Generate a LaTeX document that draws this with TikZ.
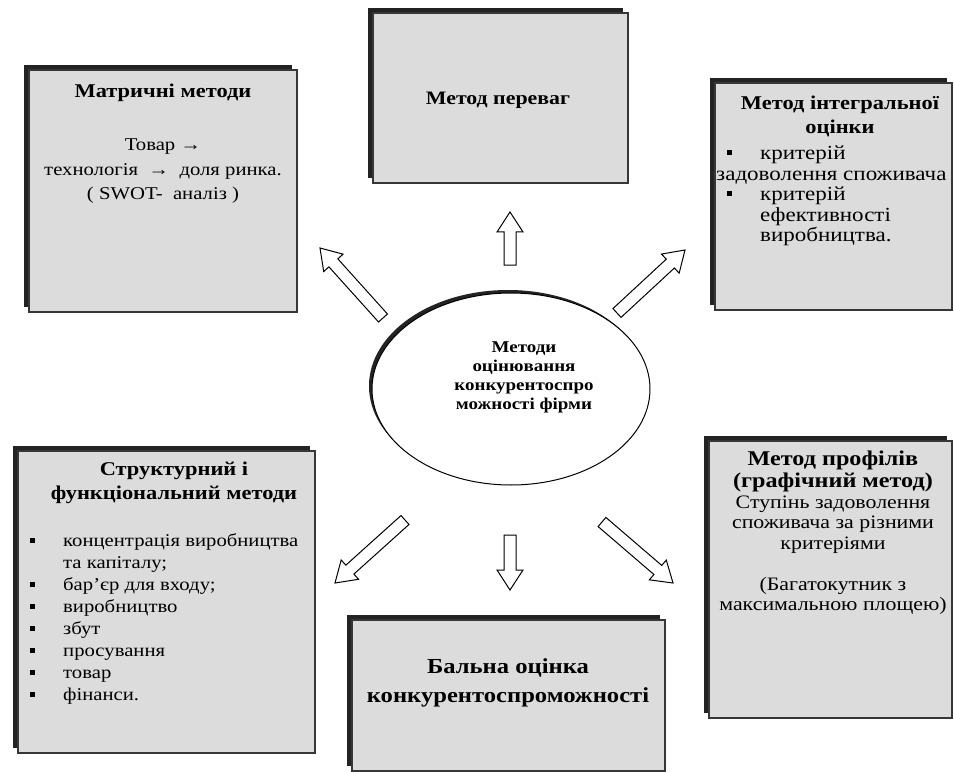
\documentclass[tikz,border=0pt]{standalone}
\usepackage{fontspec}
\setmainfont[FakeStretch=1.15]{Liberation Serif}
\usetikzlibrary{calc,shapes.geometric,shadows}
\definecolor{boxgray}{RGB}{220,220,220}
\definecolor{shadowcol}{RGB}{35,35,35}
\definecolor{linecol}{RGB}{55,55,55}
\newcommand{\bul}{\rule[0.22em]{5pt}{5pt}}
\newcommand{\blockarr}[2]{%
  \coordinate (#1h) at ($(#2)!20pt!(#1)$);
  \draw[fatarrow] ($(#1)!6pt!90:(#2)$) -- ($(#1h)!6pt!-90:(#1)$) -- ($(#1h)!13pt!-90:(#1)$) -- (#2) -- ($(#1h)!13pt!90:(#1)$) -- ($(#1h)!6pt!90:(#1)$) -- ($(#1)!6pt!-90:(#2)$) -- cycle;}
\begin{document}
\begin{tikzpicture}[x=1pt,y=-1pt,
  box/.style={rectangle, fill=boxgray, draw=linecol, line width=1.3pt, inner sep=0pt,
    drop shadow={shadow xshift=-5pt, shadow yshift=5pt, fill=shadowcol, opacity=1}},
  oval/.style={ellipse, fill=white, draw=black, line width=1pt, inner sep=0pt,
    drop shadow={shadow xshift=-3pt, shadow yshift=3pt, fill=shadowcol, opacity=1}},
  fatarrow/.style={draw=black, fill=white, line width=1pt, line join=miter},
  titletxt/.style={inner sep=0pt, align=center, font=\fontsize{19.5}{24}\selectfont\bfseries},
  bodytxt/.style={inner sep=0pt, align=center, font=\fontsize{18}{24.5}\selectfont},
  listtxt/.style={inner sep=0pt, align=left},
]
\useasboundingbox (0,0) rectangle (954,773);
\fill[white] (0,0) rectangle (954,773);

% boxes
\node[box, minimum width=268pt, minimum height=242pt] (tl) at (163,191) {};
\node[box, minimum width=255pt, minimum height=170pt] (tc) at (500.5,98) {};
\node[box, minimum width=237pt, minimum height=227pt] (tr) at (833.5,196.5) {};
\node[box, minimum width=297pt, minimum height=302pt] (bl) at (166.5,602) {};
\node[box, minimum width=313pt, minimum height=151pt] (bc) at (508.5,695.5) {};
\node[box, minimum width=243pt, minimum height=277pt] (br) at (830.5,579.5) {};

% centre
\node[oval, minimum width=278pt, minimum height=192pt] (c) at (511,389) {};
\node[inner sep=0pt, align=center, anchor=north, font=\fontsize{16.5}{19}\selectfont\bfseries] (ct) at (524,341)
  {Методи\\оцінювання\\конкурентоспро\\можності фірми};

% texts
\node[titletxt] (tlt) at (163,93) {Матричні методи};
\node[bodytxt, anchor=north] (tlb) at (163,139) {Товар →\\технологія \ → \ доля ринка.\\( SWOT- \ аналіз )};

\node[titletxt, font=\fontsize{19}{23}\selectfont\bfseries] (tct) at (498,100) {Метод переваг};

\node[titletxt, anchor=north] (trt) at (840,96) {Метод інтегральної\\оцінки};
\node[listtxt, anchor=north west] (trl) at (716,145) {\fontsize{20}{20.5}\selectfont
  \begin{tabular}{@{}p{44pt}@{}l@{}}
  \hspace*{11pt}\bul & критерій\\
  \multicolumn{2}{@{}l@{}}{задоволення споживача}\\
  \hspace*{11pt}\bul & критерій\\
   & ефективності\\
   & виробництва.
  \end{tabular}};

\node[titletxt, anchor=north] (blt) at (174,462) {Структурний і\\функціональний методи};
\node[listtxt, anchor=north west] (bll) at (30,531) {\fontsize{18}{22}\selectfont
  \begin{tabular}{@{}p{33pt}@{}l@{}}
  \bul & концентрація виробництва\\
   & та капіталу;\\
  \bul & бар’єр для входу;\\
  \bul & виробництво\\
  \bul & збут\\
  \bul & просування\\
  \bul & товар\\
  \bul & фінанси.
  \end{tabular}};

\node[inner sep=0pt, align=center, anchor=north, font=\fontsize{21.4}{29}\selectfont\bfseries] (bct) at (508,658)
  {Бальна оцінка\\конкурентоспроможності};

\node[inner sep=0pt, align=center, anchor=north, font=\fontsize{19}{20.5}\selectfont] (brt) at (833,451)
  {{\fontsize{21}{22}\selectfont\bfseries Метод профілів}\\[1.5pt]{\fontsize{21}{22}\selectfont\bfseries (графічний метод)}\\Ступінь задоволення\\споживача за різними\\критеріями\\[20.5pt](Багатокутник з\\максимальною площею)};

% arrows
\coordinate (a1s) at (510,265); \coordinate (a1e) at (510,212);
\coordinate (a2s) at (383,318); \coordinate (a2e) at (320,248);
\coordinate (a3s) at (617,313); \coordinate (a3e) at (685,250);
\coordinate (a4s) at (405,520); \coordinate (a4e) at (335,583);
\coordinate (a5s) at (510,535); \coordinate (a5e) at (510,590);
\coordinate (a6s) at (602,522); \coordinate (a6e) at (673,583);
\blockarr{a1s}{a1e}
\blockarr{a2s}{a2e}
\blockarr{a3s}{a3e}
\blockarr{a4s}{a4e}
\blockarr{a5s}{a5e}
\blockarr{a6s}{a6e}
\end{tikzpicture}
\end{document}
